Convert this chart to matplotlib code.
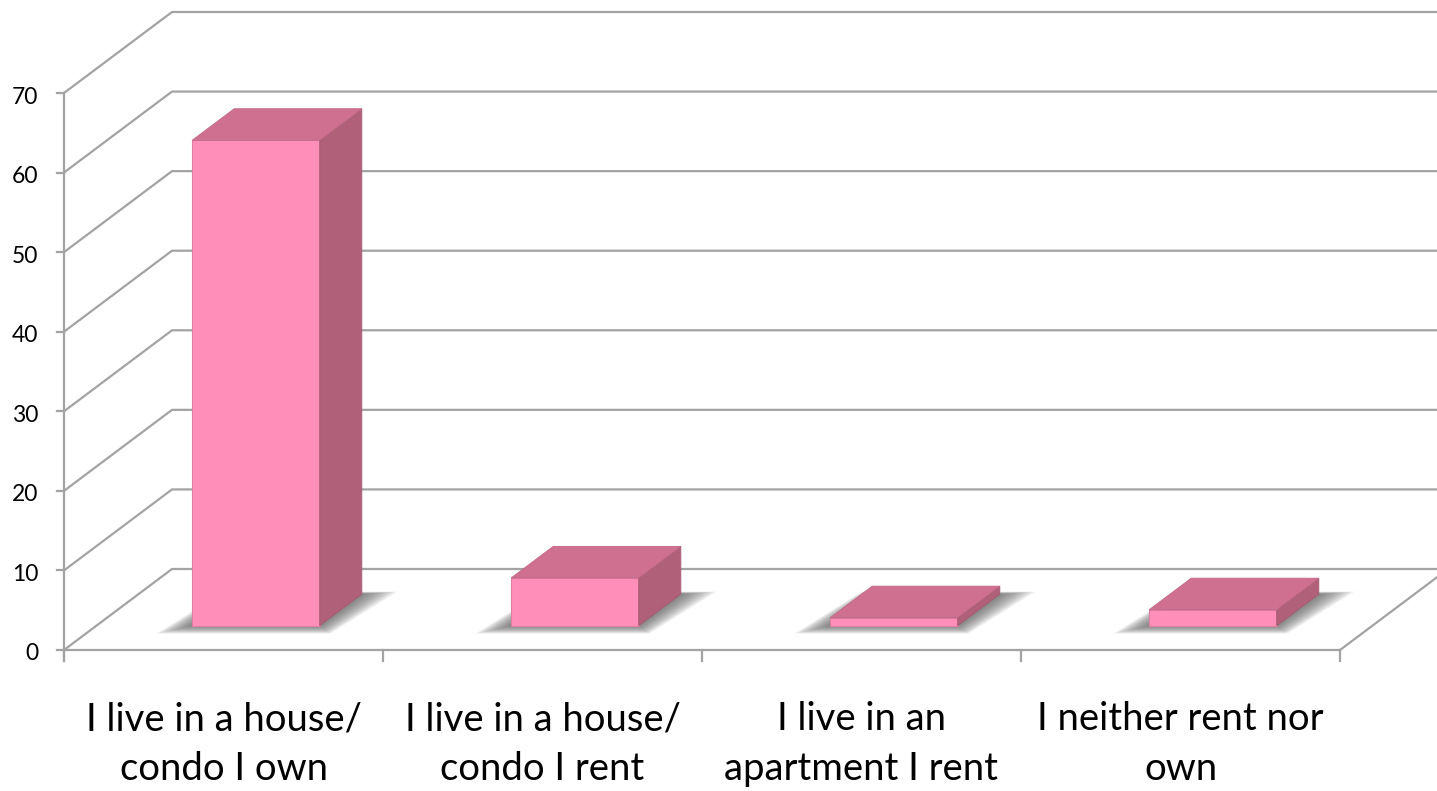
import numpy as np
import matplotlib
matplotlib.use("Agg")
import matplotlib.pyplot as plt
from matplotlib.patches import Polygon

plt.rcParams['font.family'] = ['Lato', 'DejaVu Sans']

categories = ["I live in a house/\ncondo I own",
              "I live in a house/\ncondo I rent",
              "I live in an\napartment I rent",
              "I neither rent nor\nown"]
values = [61, 6, 1, 2]
yticks = [0, 10, 20, 30, 40, 50, 60, 70]

# colours of the bar faces
C_FRONT = "#FF8FB8"
C_TOP = "#CF7090"
C_SIDE = "#B06078"
C_GRID = "#A3A3A3"

# pseudo 3d projection, in pixel space of the figure
X0, Y0 = 64, 650          # front-left floor corner
CAT_W = (1340 - 64) / 4   # width of one category on the floor
UNIT = (650 - 93) / 70.0  # pixels per value unit
DX, DY = 108, 81          # depth vector
D_FRONT, D_BACK = 0.30, 0.69
BAR_W = 0.40


def proj(xc, v, d):
    return (X0 + xc * CAT_W + d * DX, Y0 - v * UNIT - d * DY)


fig = plt.figure(figsize=(14.37, 7.91), dpi=100)
ax = fig.add_axes([0, 0, 1, 1])
ax.set_xlim(0, 1437)
ax.set_ylim(791, 0)
ax.axis('off')

LW = 1.6
ymax = yticks[-1]
# gridlines: left wall diagonals + back wall horizontals
for v in yticks:
    p0 = proj(0, v, 0)
    p1 = proj(0, v, 1)
    p2 = proj(len(categories), v, 1)
    ax.plot([p0[0], p1[0], p2[0]], [p0[1], p1[1], p2[1]], color=C_GRID, lw=LW,
            solid_joinstyle='miter', zorder=1)

# floor front edge and right edge
f0 = proj(0, 0, 0)
f1 = proj(len(categories), 0, 0)
f2 = proj(len(categories), 0, 1)
ax.plot([f0[0], f1[0], f2[0]], [f0[1], f1[1], f2[1]], color=C_GRID, lw=LW, zorder=1)

# value axis
a0 = proj(0, 0, 0)
a1 = proj(0, ymax, 0)
ax.plot([a0[0], a1[0]], [a0[1] + 11, a1[1]], color=C_GRID, lw=LW, zorder=1)
for v in yticks:
    px, py = proj(0, v, 0)
    ax.plot([px - 7, px], [py, py], color=C_GRID, lw=LW, zorder=1)
    ax.text(px - 26, py + 4, str(v), ha='right', va='center', fontsize=16.5, color='#000000')

# category ticks
for i in range(len(categories) + 1):
    px, py = proj(i, 0, 0)
    ax.plot([px, px], [py, py + 11], color=C_GRID, lw=LW, zorder=1)

# category labels
for i, lab in enumerate(categories):
    px, py = proj(i + 0.5, 0, 0)
    ax.text(px, 701, lab, ha='center', va='top', fontsize=27.5, linespacing=1.49,
            color='#000000')

# shadows and bars
for i, v in enumerate(values):
    xl = i + 0.5 - BAR_W / 2
    xr = i + 0.5 + BAR_W / 2
    fl = np.array(proj(xl, 0, D_FRONT))
    fr = np.array(proj(xr, 0, D_FRONT))
    br = np.array(proj(xr, 0, D_BACK))
    bl = np.array(proj(xl, 0, D_BACK))

    # soft shadow on the floor
    n = 20
    for k in range(n):
        e = 36 * (1 - k / n)
        ey = 8 * (1 - k / n)
        pts = [fl + [-e, ey], fr + [e * 0.3, ey], br + [e, -ey * 0.3], bl + [-e * 0.3, -ey * 0.3]]
        ax.add_patch(Polygon(pts, closed=True, facecolor='#5A5A5A', edgecolor='none',
                             alpha=0.055, zorder=2))

    tfl = np.array(proj(xl, v, D_FRONT))
    tfr = np.array(proj(xr, v, D_FRONT))
    tbr = np.array(proj(xr, v, D_BACK))
    tbl = np.array(proj(xl, v, D_BACK))

    ax.add_patch(Polygon([fl, fr, tfr, tfl], closed=True, facecolor=C_FRONT,
                         edgecolor='#E07DA3', lw=0.8, zorder=3))
    ax.add_patch(Polygon([fr, br, tbr, tfr], closed=True, facecolor=C_SIDE,
                         edgecolor='#A65A71', lw=0.6, zorder=3))
    ax.add_patch(Polygon([tfl, tfr, tbr, tbl], closed=True, facecolor=C_TOP,
                         edgecolor='#C06888', lw=0.6, zorder=3))

fig.savefig("out.png", dpi=100)
